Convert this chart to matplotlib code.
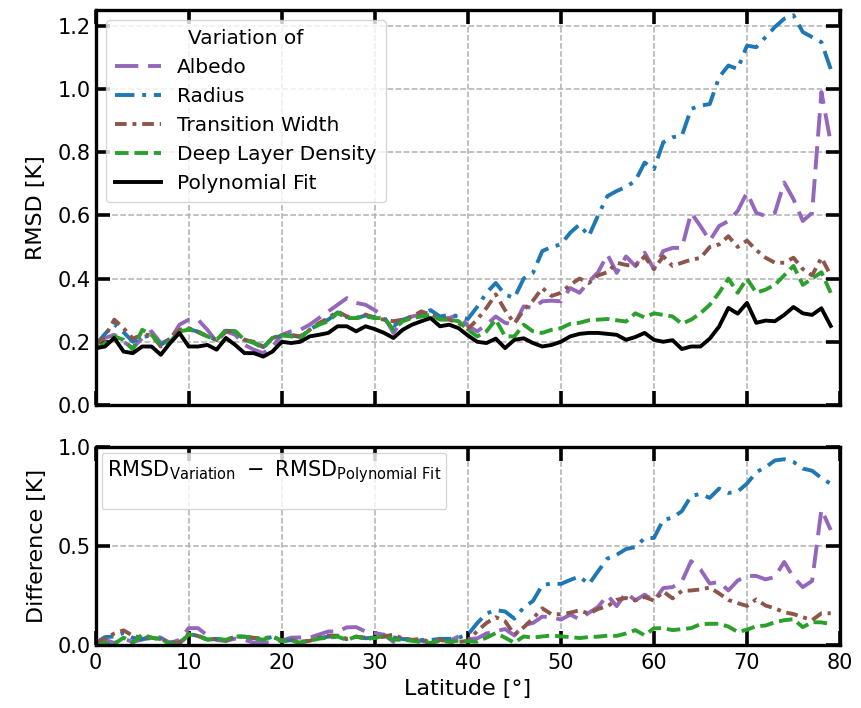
import numpy as np
import matplotlib
matplotlib.use('Agg')
import matplotlib.pyplot as plt
from matplotlib.lines import Line2D

# latitude grid [deg]
lat = np.arange(0, 80)

# RMSD [K] for each variation
albedo = [0.196, 0.212, 0.222, 0.200, 0.180, 0.212, 0.233, 0.196, 0.206, 0.254,
          0.270, 0.270, 0.238, 0.200, 0.233, 0.222, 0.190, 0.175, 0.164, 0.185,
          0.222, 0.233, 0.238, 0.254, 0.275, 0.296, 0.317, 0.338, 0.323, 0.317,
          0.300, 0.280, 0.228, 0.270, 0.280, 0.286, 0.286, 0.275, 0.275, 0.286,
          0.250, 0.233, 0.254, 0.280, 0.260, 0.254, 0.312, 0.307, 0.328, 0.330,
          0.328, 0.370, 0.355, 0.390, 0.420, 0.476, 0.418, 0.470, 0.440, 0.482,
          0.430, 0.487, 0.497, 0.497, 0.608, 0.566, 0.520, 0.566, 0.582, 0.614,
          0.672, 0.608, 0.598, 0.608, 0.704, 0.651, 0.582, 0.608, 0.990, 0.830]
radius = [0.190, 0.225, 0.255, 0.230, 0.200, 0.215, 0.220, 0.190, 0.210, 0.235,
          0.240, 0.232, 0.217, 0.206, 0.235, 0.233, 0.206, 0.198, 0.183, 0.210,
          0.220, 0.220, 0.215, 0.238, 0.257, 0.270, 0.293, 0.278, 0.275, 0.283,
          0.278, 0.272, 0.250, 0.268, 0.278, 0.290, 0.300, 0.280, 0.285, 0.280,
          0.272, 0.310, 0.355, 0.386, 0.349, 0.339, 0.400, 0.418, 0.487, 0.500,
          0.508, 0.545, 0.571, 0.534, 0.600, 0.661, 0.677, 0.690, 0.709, 0.767,
          0.746, 0.831, 0.847, 0.852, 0.937, 0.947, 0.952, 1.037, 1.074, 1.063,
          1.137, 1.132, 1.164, 1.196, 1.222, 1.233, 1.180, 1.164, 1.148, 1.063]
trans_width = [0.190, 0.217, 0.270, 0.243, 0.210, 0.222, 0.222, 0.185, 0.212, 0.238,
               0.243, 0.230, 0.217, 0.206, 0.233, 0.233, 0.206, 0.200, 0.185, 0.212,
               0.222, 0.222, 0.217, 0.238, 0.259, 0.275, 0.296, 0.280, 0.275, 0.286,
               0.275, 0.270, 0.265, 0.270, 0.280, 0.296, 0.286, 0.275, 0.270, 0.259,
               0.240, 0.270, 0.307, 0.350, 0.300, 0.258, 0.300, 0.330, 0.370, 0.345,
               0.355, 0.380, 0.400, 0.386, 0.410, 0.420, 0.450, 0.443, 0.440, 0.470,
               0.430, 0.470, 0.440, 0.450, 0.460, 0.465, 0.500, 0.508, 0.534, 0.500,
               0.520, 0.490, 0.466, 0.450, 0.450, 0.466, 0.430, 0.410, 0.466, 0.410]
deep_density = [0.175, 0.196, 0.217, 0.206, 0.175, 0.238, 0.222, 0.190, 0.200, 0.233,
                0.238, 0.233, 0.217, 0.206, 0.238, 0.233, 0.206, 0.196, 0.180, 0.212,
                0.220, 0.217, 0.212, 0.238, 0.254, 0.265, 0.291, 0.275, 0.275, 0.280,
                0.275, 0.275, 0.238, 0.265, 0.275, 0.280, 0.286, 0.270, 0.270, 0.265,
                0.238, 0.217, 0.233, 0.270, 0.217, 0.217, 0.254, 0.233, 0.228, 0.238,
                0.243, 0.257, 0.260, 0.268, 0.270, 0.272, 0.268, 0.264, 0.290, 0.277,
                0.290, 0.285, 0.280, 0.257, 0.270, 0.290, 0.317, 0.355, 0.400, 0.355,
                0.400, 0.355, 0.365, 0.380, 0.410, 0.440, 0.380, 0.400, 0.420, 0.355]
poly_fit = [0.180, 0.185, 0.212, 0.169, 0.164, 0.185, 0.185, 0.159, 0.196, 0.228,
            0.185, 0.185, 0.190, 0.175, 0.212, 0.190, 0.164, 0.164, 0.153, 0.169,
            0.200, 0.196, 0.200, 0.217, 0.222, 0.228, 0.249, 0.249, 0.233, 0.249,
            0.240, 0.228, 0.212, 0.238, 0.254, 0.265, 0.275, 0.249, 0.254, 0.243,
            0.220, 0.200, 0.196, 0.210, 0.180, 0.206, 0.211, 0.196, 0.185, 0.190,
            0.200, 0.217, 0.225, 0.228, 0.228, 0.225, 0.222, 0.206, 0.215, 0.228,
            0.206, 0.200, 0.205, 0.177, 0.185, 0.185, 0.210, 0.248, 0.307, 0.289,
            0.323, 0.260, 0.267, 0.265, 0.285, 0.310, 0.290, 0.285, 0.306, 0.250]

labels = ['Albedo', 'Radius', 'Transition Width', 'Deep Layer Density']
colors = ['#9467bd', '#1f77b4', '#8c564b', '#2ca02c']
styles = [(0, (6, 2.5)), (0, (5, 2, 1, 2)), (0, (3, 1.5, 1, 1.5)), (0, (3.5, 1.5))]
variations = [albedo, radius, trans_width, deep_density]

fig = plt.figure(figsize=(8.62, 7.08), dpi=100)
ax1 = fig.add_axes([0.111, 0.428, 0.8635, 0.558])
ax2 = fig.add_axes([0.111, 0.089, 0.8635, 0.280], sharex=ax1)

lw = 2.8
for y, lab, c, ls in zip(variations, labels, colors, styles):
    ax1.plot(lat, y, color=c, ls=ls, lw=lw, label=lab)
    ax2.plot(lat, np.array(y) - np.array(poly_fit), color=c, ls=ls, lw=lw)
ax1.plot(lat, poly_fit, color='k', lw=lw, label='Polynomial Fit')

for ax in (ax1, ax2):
    ax.grid(True, ls='--', color='#b0b0b0', lw=1.1)
    ax.tick_params(direction='in', which='both', top=True, right=True,
                   length=10, width=2.6, labelsize=15)
    ax.tick_params(axis='x', pad=6)
    for s in ax.spines.values():
        s.set_linewidth(2.4)
    ax.set_xlim(0, 80)
    ax.set_xticks(np.arange(0, 81, 10))

ax1.set_ylim(0, 1.25)
ax1.set_yticks(np.arange(0, 1.21, 0.2))
ax1.yaxis.set_major_formatter(matplotlib.ticker.FormatStrFormatter('%.1f'))
ax1.tick_params(labelbottom=False)
ax1.set_ylabel('RMSD [K]', fontsize=16, labelpad=8)
ax1.legend(title='Variation of', loc='upper left', fontsize=14.5,
           title_fontsize=14.5, handlelength=2.3, borderpad=0.45,
           labelspacing=0.5)

ax2.set_ylim(0, 1.0)
ax2.set_yticks([0.0, 0.5, 1.0])
ax2.set_ylabel('Difference [K]', fontsize=16, labelpad=8)
ax2.set_xlabel('Latitude [°]', fontsize=16)
ax2.legend(handles=[Line2D([], [], color='none')], labels=[''],
           title=r'$\mathrm{RMSD}_{\mathrm{Variation}}\ -\ \mathrm{RMSD}_{\mathrm{Polynomial\ Fit}}$',
           loc='upper left', title_fontsize=15, fontsize=9)

fig.align_ylabels([ax1, ax2])
fig.savefig('out.png', dpi=100)
